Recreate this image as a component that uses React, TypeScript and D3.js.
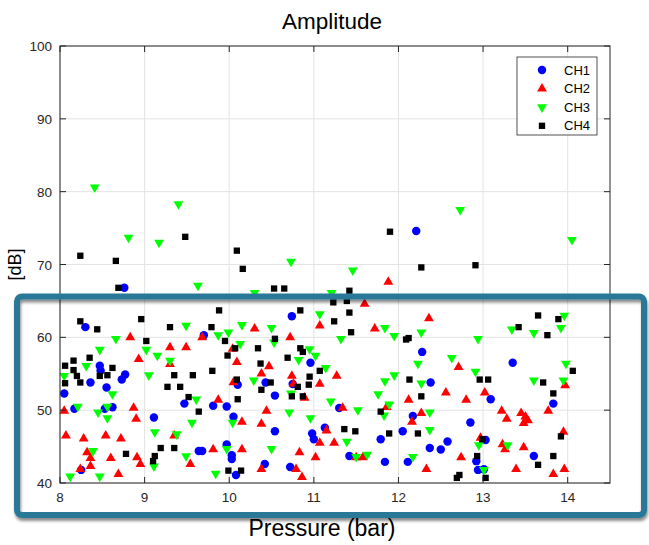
import React from "react";
import * as d3 from "d3";

const xTicks = [8, 9, 10, 11, 12, 13, 14];
const yTicks = [40, 50, 60, 70, 80, 90, 100];

// pressure (bar), amplitude (dB)
const ch1X = [8.30, 8.47, 8.48, 8.05, 8.36, 8.55, 8.73, 8.77, 8.17, 8.53, 8.62, 8.25, 9.11, 9.47, 9.70, 9.64, 9.68, 9.81, 9.97, 9.97, 10.03, 10.03, 10.05, 10.10, 10.08, 10.74, 10.96, 10.43, 10.75, 10.54, 11.30, 10.54, 10.98, 11.00, 11.13, 11.79, 12.05, 12.17, 12.28, 12.38, 12.37, 11.42, 11.84, 12.11, 10.42, 10.72, 13.35, 13.09, 12.85, 13.83, 12.58, 12.50, 13.03, 12.92, 12.94, 13.01, 13.60, 12.21, 8.76];
const ch1Y = [61.4, 56.1, 55.4, 52.3, 53.8, 53.1, 54.2, 54.9, 50.2, 50.2, 50.4, 41.8, 49.0, 50.9, 60.3, 44.4, 44.4, 50.6, 50.5, 45.3, 43.8, 43.3, 49.1, 53.5, 41.1, 62.9, 56.5, 53.8, 53.6, 52.0, 50.3, 47.1, 46.8, 46.0, 47.6, 46.0, 47.1, 49.2, 58.0, 53.8, 44.8, 43.7, 42.9, 42.9, 42.6, 42.2, 56.5, 51.5, 48.3, 50.9, 45.7, 44.6, 45.9, 43.0, 41.8, 41.9, 43.7, 74.6, 66.8];

const ch2X = [8.83, 8.05, 8.93, 9.30, 9.49, 9.68, 9.30, 8.87, 8.90, 8.07, 8.28, 8.54, 8.72, 8.32, 8.36, 8.36, 8.24, 8.60, 8.69, 8.91, 8.95, 9.35, 9.54, 9.81, 9.87, 10.04, 10.09, 10.05, 10.15, 10.15, 10.30, 10.72, 11.07, 11.60, 11.72, 12.36, 10.47, 10.38, 10.74, 10.76, 11.07, 11.27, 10.89, 10.44, 10.38, 11.34, 11.86, 12.12, 12.27, 12.16, 11.15, 11.07, 11.24, 10.83, 11.02, 11.50, 11.58, 10.79, 10.86, 10.38, 12.33, 12.71, 12.56, 12.80, 13.02, 13.22, 13.28, 13.45, 13.48, 13.53, 13.50, 13.77, 13.97, 13.95, 12.97, 13.23, 13.26, 13.48, 12.74, 13.39, 13.83, 13.96, 11.88];
const ch2Y = [60.0, 49.9, 57.0, 58.6, 58.6, 60.0, 56.3, 50.3, 48.8, 46.5, 46.1, 46.5, 46.1, 44.2, 43.4, 42.3, 41.9, 43.4, 41.2, 43.5, 42.6, 46.5, 42.6, 44.6, 51.4, 58.4, 56.6, 53.8, 48.4, 44.6, 61.2, 60.0, 61.6, 64.6, 61.2, 62.6, 56.0, 55.0, 54.7, 53.6, 53.6, 54.7, 51.7, 49.9, 48.1, 50.3, 50.4, 51.4, 49.6, 48.4, 47.2, 45.5, 45.5, 44.2, 43.5, 43.5, 43.5, 41.9, 40.8, 41.9, 41.9, 55.9, 52.4, 51.4, 52.4, 49.9, 48.8, 49.6, 48.2, 48.6, 49.1, 49.9, 53.4, 47.0, 46.2, 45.3, 44.6, 44.9, 43.5, 41.9, 41.2, 41.9, 67.6];

const ch3X = [8.66, 8.47, 8.05, 8.31, 8.21, 8.45, 8.56, 8.56, 8.62, 9.02, 9.15, 9.30, 9.05, 9.49, 9.87, 9.99, 10.15, 10.13, 9.61, 9.56, 9.12, 9.38, 9.49, 9.97, 10.04, 8.39, 8.12, 8.47, 9.11, 9.84, 10.50, 10.53, 11.07, 11.32, 11.84, 11.95, 12.27, 10.95, 11.02, 10.82, 11.14, 10.29, 10.73, 11.20, 11.52, 11.76, 11.89, 11.83, 11.84, 11.95, 12.23, 12.27, 12.37, 12.37, 10.71, 10.96, 11.39, 10.50, 11.50, 11.63, 12.17, 12.94, 12.63, 12.91, 13.34, 13.60, 13.96, 13.92, 13.98, 13.60, 13.95, 12.95, 13.29, 13.01, 8.41, 9.40, 8.81, 9.17, 10.73, 9.63, 10.30, 11.21, 12.73, 14.05, 11.46];
const ch3Y = [59.8, 58.3, 54.7, 56.1, 50.5, 49.7, 50.5, 48.9, 52.2, 58.3, 57.5, 56.8, 54.8, 61.6, 60.3, 60.7, 61.7, 59.1, 51.5, 48.3, 47.0, 46.7, 43.7, 44.7, 48.3, 44.4, 40.9, 40.9, 42.3, 41.3, 61.3, 59.3, 63.2, 59.8, 61.3, 60.2, 60.7, 58.4, 57.5, 56.9, 55.8, 54.1, 52.3, 51.2, 50.0, 52.2, 50.8, 49.3, 54.0, 54.8, 56.4, 53.7, 49.7, 47.3, 49.7, 48.9, 45.7, 44.7, 43.6, 43.9, 43.6, 59.8, 57.2, 55.3, 61.1, 60.6, 63.0, 61.3, 56.4, 54.1, 54.1, 45.2, 45.2, 41.8, 80.6, 78.3, 73.7, 73.0, 70.4, 67.1, 66.1, 66.1, 77.5, 73.4, 69.2];

const ch4X = [8.24, 8.44, 8.96, 9.30, 9.79, 9.88, 9.02, 9.95, 10.07, 9.98, 8.06, 8.16, 8.35, 8.16, 8.20, 8.24, 8.06, 8.47, 8.56, 8.62, 9.35, 9.57, 9.80, 9.27, 9.42, 9.52, 9.64, 10.09, 10.10, 8.78, 9.19, 9.12, 9.10, 9.35, 9.99, 10.14, 10.84, 11.42, 11.24, 11.44, 10.54, 10.34, 10.84, 10.87, 10.69, 10.37, 11.07, 10.95, 10.49, 10.81, 10.94, 10.38, 10.74, 10.87, 12.09, 12.12, 12.13, 12.27, 11.79, 11.36, 11.49, 11.89, 12.23, 13.65, 13.89, 13.42, 13.76, 12.96, 13.06, 14.06, 13.71, 13.83, 12.99, 13.92, 12.93, 13.83, 13.65, 12.69, 12.72, 13.03, 9.48, 8.24, 8.66, 10.09, 10.16, 8.69, 10.53, 10.65, 11.90, 12.27, 12.91, 11.42, 11.23, 11.39];
const ch4Y = [62.2, 61.1, 62.5, 61.4, 61.4, 63.7, 59.5, 59.5, 58.5, 57.5, 56.1, 56.8, 57.2, 55.5, 54.7, 53.8, 53.7, 54.7, 54.8, 55.8, 54.8, 54.8, 55.4, 53.2, 53.2, 51.8, 49.8, 54.2, 51.5, 44.0, 44.8, 43.7, 43.0, 44.8, 41.7, 41.7, 63.7, 63.4, 62.2, 60.7, 59.8, 58.5, 58.5, 58.0, 57.2, 56.4, 55.4, 54.6, 53.8, 53.2, 53.5, 52.8, 51.9, 51.9, 59.7, 59.9, 54.2, 51.9, 49.8, 47.4, 47.1, 46.8, 46.8, 63.0, 62.5, 61.4, 60.3, 54.2, 54.2, 55.4, 53.8, 52.3, 46.0, 46.4, 43.7, 43.7, 42.5, 40.7, 41.1, 40.7, 73.8, 71.2, 70.5, 71.9, 69.4, 66.8, 66.7, 66.7, 74.5, 69.6, 69.9, 66.4, 64.8, 65.0];

const seriesNames = ["CH1", "CH2", "CH3", "CH4"];
const seriesColors = ["#0000ff", "#ff0000", "#00ff00", "#000000"];

const W = 649;
const H = 545;
const margin = { top: 46, right: 39, bottom: 62, left: 60 };
const font = "'Liberation Sans', Arial, Helvetica, sans-serif";

const App = () => {
  const x = d3.scaleLinear().domain([8, 14.5]).range([margin.left, W - margin.right]);
  const y = d3.scaleLinear().domain([40, 100]).range([H - margin.bottom, margin.top]);

  const circle = d3.symbol().type(d3.symbolCircle).size(56)();
  const tri = d3.symbol().type(d3.symbolTriangle).size(42)();
  const square = d3.symbol().type(d3.symbolSquare).size(40)();
  const markers = [
    { path: circle, rot: 0 },
    { path: tri, rot: 0 },
    { path: tri, rot: 180 },
    { path: square, rot: 0 },
  ];

  const series = [
    { xs: ch1X, ys: ch1Y },
    { xs: ch2X, ys: ch2Y },
    { xs: ch3X, ys: ch3Y },
    { xs: ch4X, ys: ch4Y },
  ];

  const [x0, x1] = x.range();
  const [y0, y1] = y.range();
  const axisColor = "#262626";
  const tickLen = 6;

  const legendX = 517;
  const legendY = 57;

  return (
    <svg width={W} height={H} style={{ position: "absolute", left: 0, top: 0 }} fontFamily={font}>
      <defs>
        <filter id="shadow" x="-5%" y="-5%" width="110%" height="120%">
          <feDropShadow dx="1" dy="3" stdDeviation="1.5" floodColor="#000" floodOpacity="0.45" />
        </filter>
      </defs>
      <rect x={0} y={0} width={W} height={H} fill="#fff" />

      {/* grid */}
      {xTicks.map((t) => (
        <line key={"gx" + t} x1={x(t)} x2={x(t)} y1={y0} y2={y1} stroke="#e3e3e3" strokeWidth={1} />
      ))}
      {yTicks.map((t) => (
        <line key={"gy" + t} x1={x0} x2={x1} y1={y(t)} y2={y(t)} stroke="#e3e3e3" strokeWidth={1} />
      ))}

      {/* points */}
      {series.map((s, i) =>
        s.xs.map((v, j) => (
          <path
            key={i + "-" + j}
            d={markers[i].path}
            fill={seriesColors[i]}
            transform={`translate(${x(v)},${y(s.ys[j])}) rotate(${markers[i].rot})`}
          />
        ))
      )}

      {/* axes box and ticks */}
      <rect x={x0} y={y1} width={x1 - x0} height={y0 - y1} fill="none" stroke={axisColor} strokeWidth={1} />
      {xTicks.map((t) => (
        <g key={"tx" + t}>
          <line x1={x(t)} x2={x(t)} y1={y0} y2={y0 - tickLen} stroke={axisColor} />
          <line x1={x(t)} x2={x(t)} y1={y1} y2={y1 + tickLen} stroke={axisColor} />
          <text x={x(t)} y={y0 + 19} textAnchor="middle" fontSize={13.5} fill="#262626">
            {t}
          </text>
        </g>
      ))}
      {yTicks.map((t) => (
        <g key={"ty" + t}>
          <line x1={x0} x2={x0 + tickLen} y1={y(t)} y2={y(t)} stroke={axisColor} />
          <line x1={x1} x2={x1 - tickLen} y1={y(t)} y2={y(t)} stroke={axisColor} />
          <text x={x0 - 8} y={y(t) + 5} textAnchor="end" fontSize={13.5} fill="#262626">
            {t}
          </text>
        </g>
      ))}

      {/* titles */}
      <text x={332} y={29} textAnchor="middle" fontSize={22.5} fill="#000">
        Amplitude
      </text>
      <text x={322} y={536} textAnchor="middle" fontSize={23} fill="#000">
        Pressure (bar)
      </text>
      <text
        transform={`translate(21,${(y0 + y1) / 2}) rotate(-90)`}
        textAnchor="middle"
        fontSize={18}
        fill="#000"
      >
        [dB]
      </text>

      {/* legend */}
      <rect x={legendX} y={legendY} width={80} height={78} fill="#fff" stroke="#262626" strokeWidth={0.8} />
      {seriesNames.map((name, i) => (
        <g key={name} transform={`translate(${legendX}, ${legendY + 13 + i * 18.6})`}>
          <path d={markers[i].path} fill={seriesColors[i]} transform={`translate(25,0) rotate(${markers[i].rot})`} />
          <text x={47} y={4.5} fontSize={13} fill="#000">
            {name}
          </text>
        </g>
      ))}

      {/* highlight frame */}
      <rect
        x={17}
        y={296.5}
        width={627}
        height={218.5}
        rx={5}
        fill="none"
        stroke="#2a7898"
        strokeWidth={6}
        filter="url(#shadow)"
      />
    </svg>
  );
};

export default App;
